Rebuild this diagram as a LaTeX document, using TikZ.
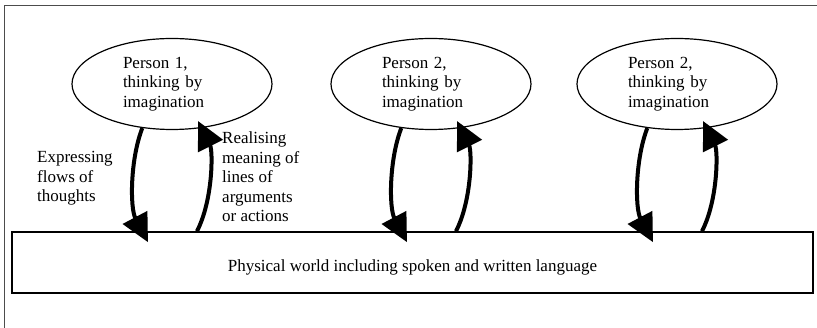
\documentclass[tikz,border=0pt]{standalone}
\usepackage{fontspec}
\setmainfont{Liberation Serif}
\usetikzlibrary{arrows.meta,shapes.geometric,calc}

\begin{document}
\begin{tikzpicture}[x=1pt,y=-1pt,
  txt/.style={font=\rmfamily\fontsize{17}{19.5}\selectfont,inner sep=0pt},
  person/.style={txt,draw,line width=1.2pt,ellipse,minimum width=200pt,minimum height=91pt,text width=98pt,align=left},
  world/.style={txt,draw,line width=1.6pt,minimum width=801pt,minimum height=61pt,text height=19pt,text depth=0pt},
  lab/.style={txt,anchor=north west,align=left},
  flow/.style={line width=4pt,-{Triangle[length=28pt,width=27pt]}}]
\useasboundingbox (0,0) rectangle (817,328);
% frame
\draw[line width=1pt,black!70] (4,328) -- (4,6) -- (817,6);
% world and persons
\node[world] (w) at (412.5,262.5) {Physical world including spoken and written language};
\node[person] (p1) at (172,84) {Person 1,\\thinking by\\imagination};
\node[person] (p2) at (431,84) {Person 2,\\thinking by\\imagination};
\node[person] (p3) at (677,84) {Person 2,\\thinking by\\imagination};
% arrows
\foreach \p in {p1,p2,p3}{
  \draw[flow] (\p.236) .. controls ($(\p.center)+(-42,76)$) and ($(\p.center)+(-42,124)$) .. ($(\p.center |- w.north)+(-24,11)$);
  \draw[flow] ($(\p.center |- w.north)+(25,0)$) .. controls ($(\p.center)+(41,116)$) and ($(\p.center)+(41,67)$) .. ($(\p.center)+(26,37)$);
}
\node[lab] (ex) at (37,151.5) {Expressing\\flows of\\thoughts};
\node[lab] (re) at (222,132) {Realising\\meaning of\\lines of\\arguments\\or actions};
\end{tikzpicture}
\end{document}
